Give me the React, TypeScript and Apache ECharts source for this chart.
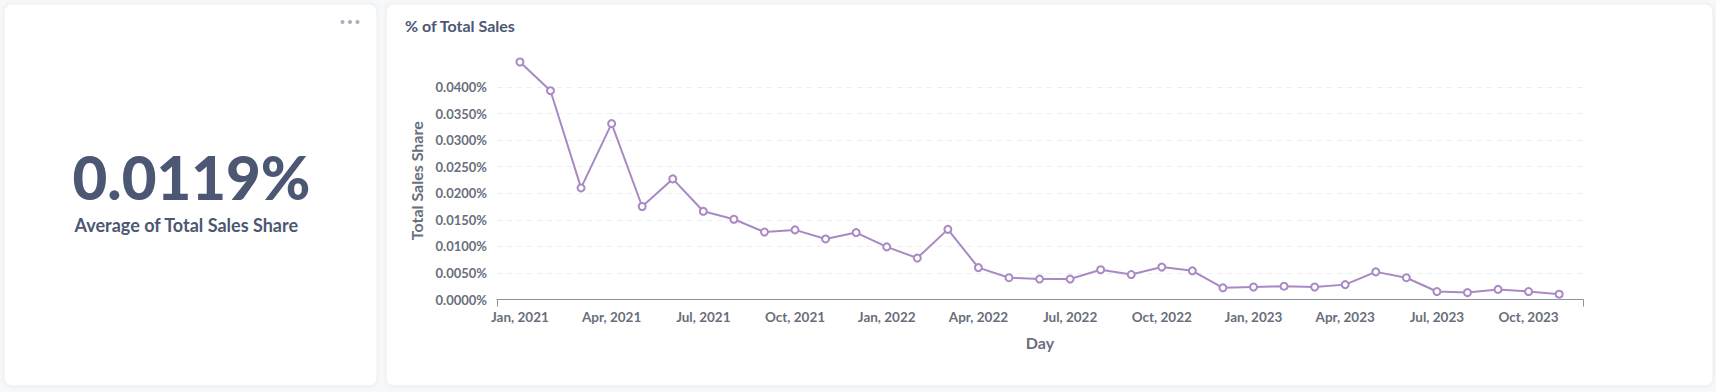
import React, { useEffect, useRef } from "react";
import * as echarts from "echarts";

const monthLabels = [
  "Jan, 2021", "Feb, 2021", "Mar, 2021", "Apr, 2021", "May, 2021", "Jun, 2021",
  "Jul, 2021", "Aug, 2021", "Sep, 2021", "Oct, 2021", "Nov, 2021", "Dec, 2021",
  "Jan, 2022", "Feb, 2022", "Mar, 2022", "Apr, 2022", "May, 2022", "Jun, 2022",
  "Jul, 2022", "Aug, 2022", "Sep, 2022", "Oct, 2022", "Nov, 2022", "Dec, 2022",
  "Jan, 2023", "Feb, 2023", "Mar, 2023", "Apr, 2023", "May, 2023", "Jun, 2023",
  "Jul, 2023", "Aug, 2023", "Sep, 2023", "Oct, 2023", "Nov, 2023",
];

// Total Sales Share, in percent
const shareValues = [
  0.0447, 0.0393, 0.0210, 0.0331, 0.0175, 0.0227, 0.0166, 0.0151, 0.0127, 0.0131, 0.0114, 0.0126,
  0.0099, 0.0078, 0.0132, 0.0060, 0.0041, 0.00385, 0.00385, 0.0056, 0.0047, 0.0061, 0.0054, 0.0022,
  0.00235, 0.0025, 0.00235, 0.0028, 0.0052, 0.0041, 0.0015, 0.0013, 0.0019, 0.0015, 0.0010,
];

const labelIndices = [0, 3, 6, 9, 12, 15, 18, 21, 24, 27, 30, 33];

const scalarValue = "0.0119%";
const scalarLabel = "Average of Total Sales Share";
const chartTitle = "% of Total Sales";
const yAxisName = "Total Sales Share";
const xAxisName = "Day";

const X_MIN = -0.75;
const X_MAX = 34.78;

export default function App() {
  const ref = useRef<HTMLDivElement>(null);
  useEffect(() => {
    if (!ref.current) return;
    const chart = echarts.init(ref.current, null, { renderer: "svg" });
    const font = "Lato, 'Noto Sans', sans-serif";
    const dark = "#4c5773";
    const medium = "#696e7b";
    const purple = "#a989c5";
    const axisColor = "#8d92a0";

    chart.setOption({
      animation: false,
      backgroundColor: "#f6f8fa",
      textStyle: { fontFamily: font },
      graphic: [
        {
          type: "rect",
          shape: { x: 4, y: 4, width: 373, height: 382, r: 8 },
          style: { fill: "#ffffff", stroke: "#eceef2", lineWidth: 1, shadowBlur: 4, shadowColor: "rgba(0,0,0,0.05)" },
          z: -10,
        },
        {
          type: "rect",
          shape: { x: 386, y: 4, width: 1327, height: 382, r: 8 },
          style: { fill: "#ffffff", stroke: "#eceef2", lineWidth: 1, shadowBlur: 4, shadowColor: "rgba(0,0,0,0.05)" },
          z: -10,
        },
        { type: "circle", shape: { cx: 342.5, cy: 22, r: 2 }, style: { fill: "#a9afbd" } },
        { type: "circle", shape: { cx: 350, cy: 22, r: 2 }, style: { fill: "#a9afbd" } },
        { type: "circle", shape: { cx: 357.5, cy: 22, r: 2 }, style: { fill: "#a9afbd" } },
        {
          type: "text",
          x: 191.5,
          y: 177,
          style: {
            text: scalarValue,
            fontFamily: font,
            fontWeight: 900,
            fontSize: 60,
            fill: dark,
            align: "center",
            verticalAlign: "middle",
          },
        },
        {
          type: "text",
          x: 74.5,
          y: 225,
          style: {
            text: scalarLabel,
            fontFamily: font,
            fontWeight: 700,
            fontSize: 18,
            fill: dark,
            align: "left",
            verticalAlign: "middle",
          },
        },
        {
          type: "text",
          x: 405,
          y: 25,
          style: {
            text: chartTitle,
            fontFamily: font,
            fontWeight: 700,
            fontSize: 16,
            fill: dark,
            align: "left",
            verticalAlign: "middle",
          },
        },
      ],
      grid: { left: 497, right: 133, top: 62, bottom: 92.5, containLabel: false },
      xAxis: {
        type: "value",
        min: X_MIN,
        max: X_MAX,
        name: xAxisName,
        nameLocation: "middle",
        nameGap: 35,
        nameTextStyle: { fontFamily: font, fontWeight: 700, fontSize: 16, color: medium },
        axisLine: { show: true, lineStyle: { color: axisColor, width: 1 } },
        axisTick: { show: true, length: 7, customValues: [X_MIN, X_MAX], lineStyle: { color: axisColor } },
        splitLine: { show: false },
        axisLabel: {
          customValues: labelIndices,
          margin: 10,
          fontFamily: font,
          fontWeight: 700,
          fontSize: 13.5,
          color: medium,
          formatter: (v: number) => monthLabels[Math.round(v)] ?? "",
        },
      },
      yAxis: {
        type: "value",
        min: 0,
        max: (v: { max: number }) => v.max,
        interval: 0.005,
        name: yAxisName,
        nameLocation: "middle",
        nameGap: 73,
        nameTextStyle: { fontFamily: font, fontWeight: 700, fontSize: 16, color: medium },
        axisLine: { show: false },
        axisTick: { show: false },
        splitLine: { show: true, showMaxLine: false, lineStyle: { color: "#eceef1", type: [5, 5], width: 1 } },
        axisLabel: {
          showMaxLabel: false,
          margin: 10,
          fontFamily: font,
          fontWeight: 700,
          fontSize: 13,
          color: medium,
          formatter: (v: number) => v.toFixed(4) + "%",
        },
      },
      series: [
        {
          type: "line",
          data: shareValues.map((v, i) => [i, v]),
          symbol: "circle",
          symbolSize: 7,
          showAllSymbol: true,
          lineStyle: { color: purple, width: 2 },
          itemStyle: { color: "#ffffff", borderColor: purple, borderWidth: 2 },
        },
      ],
    });
    return () => chart.dispose();
  }, []);
  return (
    <div
      ref={ref}
      style={{ position: "fixed", left: 0, top: 0, width: 1716, height: 392 }}
    />
  );
}
